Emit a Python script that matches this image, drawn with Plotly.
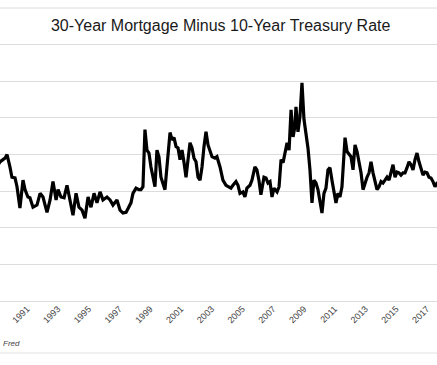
import plotly.graph_objects as go

# Decimal years and spread values (percentage points)
years = [1989.10, 1989.24, 1989.57, 1989.70, 1989.89, 1990.02, 1990.22, 1990.35, 1990.54, 1990.74, 1990.87,
         1991.06, 1991.19, 1991.39, 1991.65, 1991.85, 1992.04, 1992.30, 1992.50, 1992.69, 1992.89,
         1993.02, 1993.21, 1993.41, 1993.60, 1993.80, 1993.99, 1994.19, 1994.38, 1994.58, 1994.77,
         1994.97, 1995.16, 1995.36, 1995.55, 1995.75, 1995.94, 1996.20, 1996.40, 1996.59, 1996.85,
         1997.05, 1997.24, 1997.44, 1997.57, 1997.76, 1997.89, 1998.09, 1998.28, 1998.41, 1998.54,
         1998.67, 1998.80, 1998.93, 1999.06, 1999.19, 1999.32, 1999.45, 1999.58, 1999.71, 1999.84,
         1999.97, 2000.10, 2000.30, 2000.43, 2000.56, 2000.69, 2000.82, 2000.95, 2001.08, 2001.21,
         2001.34, 2001.47, 2001.60, 2001.73, 2001.86, 2001.99, 2002.12, 2002.25, 2002.38, 2002.51,
         2002.64, 2002.77, 2002.90, 2003.03, 2003.22, 2003.35, 2003.55, 2003.74, 2003.94, 2004.13,
         2004.26, 2004.39, 2004.59, 2004.72, 2004.85, 2005.04, 2005.17, 2005.30, 2005.50, 2005.63,
         2005.82, 2005.95, 2006.08, 2006.21, 2006.41, 2006.54, 2006.67, 2006.80, 2006.93, 2007.06,
         2007.26, 2007.39, 2007.52, 2007.65, 2007.78, 2007.91, 2008.04, 2008.17, 2008.30, 2008.42,
         2008.49, 2008.62, 2008.75, 2008.88, 2009.01, 2009.14, 2009.27, 2009.40, 2009.53, 2009.66,
         2009.79, 2009.92, 2010.05, 2010.18, 2010.31, 2010.44, 2010.57, 2010.70, 2010.83, 2010.96,
         2011.09, 2011.22, 2011.35, 2011.48, 2011.61, 2011.68, 2011.81, 2011.94, 2012.07, 2012.20,
         2012.33, 2012.46, 2012.59, 2012.72, 2012.85, 2012.98, 2013.11, 2013.24, 2013.37, 2013.50,
         2013.63, 2013.76, 2013.89, 2014.02, 2014.15, 2014.28, 2014.41, 2014.54, 2014.67, 2014.80,
         2014.93, 2015.06, 2015.19, 2015.32, 2015.45, 2015.58, 2015.71, 2015.84, 2015.97, 2016.10,
         2016.23, 2016.36, 2016.49, 2016.62, 2016.75, 2016.88, 2017.01, 2017.14, 2017.27, 2017.40,
         2017.53, 2017.66, 2017.80]

spread = [1.85, 1.90, 1.95, 2.00, 1.83, 1.69, 1.68, 1.56, 1.27, 1.65, 1.52,
          1.42, 1.41, 1.28, 1.31, 1.47, 1.42, 1.21, 1.38, 1.63, 1.38,
          1.52, 1.42, 1.41, 1.58, 1.38, 1.17, 1.47, 1.28, 1.24, 1.13,
          1.42, 1.28, 1.47, 1.34, 1.49, 1.38, 1.42, 1.38, 1.31, 1.38,
          1.24, 1.20, 1.21, 1.27, 1.34, 1.47, 1.54, 1.52, 1.52, 1.56,
          2.34, 2.06, 2.02, 1.83, 1.69, 1.56, 2.06, 1.97, 1.69, 1.61,
          1.52, 1.83, 2.30, 2.20, 2.23, 2.11, 2.09, 1.93, 2.06, 1.89,
          1.69, 1.93, 2.16, 2.09, 1.95, 1.90, 1.69, 1.65, 1.83, 2.11,
          2.31, 2.13, 2.03, 1.97, 1.95, 1.97, 1.83, 1.65, 1.58, 1.56,
          1.54, 1.58, 1.63, 1.58, 1.47, 1.49, 1.42, 1.54, 1.58, 1.65,
          1.83, 1.79, 1.65, 1.45, 1.69, 1.68, 1.61, 1.63, 1.42, 1.54,
          1.49, 1.56, 1.93, 1.89, 2.04, 2.16, 2.06, 2.61, 2.24, 2.38,
          2.65, 2.31, 2.52, 2.98, 2.48, 2.30, 2.09, 1.79, 1.34, 1.65,
          1.61, 1.52, 1.34, 1.20, 1.47, 1.54, 1.79, 1.82, 1.65, 1.47,
          1.34, 1.47, 1.42, 1.56, 2.06, 2.23, 2.04, 2.00, 1.97, 1.79,
          2.13, 2.04, 1.89, 1.75, 1.52, 1.61, 1.69, 1.75, 1.90, 1.75,
          1.65, 1.52, 1.56, 1.63, 1.61, 1.65, 1.69, 1.65, 1.76, 1.86,
          1.69, 1.76, 1.75, 1.72, 1.75, 1.75, 1.82, 1.90, 1.86, 1.79,
          1.93, 2.02, 1.90, 1.79, 1.72, 1.76, 1.75, 1.69, 1.68, 1.63,
          1.56, 1.61, 1.62]

tick_years = [1991, 1993, 1995, 1997, 1999, 2001, 2003, 2005, 2007, 2009, 2011, 2013, 2015, 2017]
tick_labels = [str(y) for y in tick_years]

fig = go.Figure()
fig.add_trace(go.Scatter(x=years, y=spread, mode="lines",
                         line=dict(color="#000000", width=3.2), hoverinfo="skip"))

fig.update_layout(
    width=437, height=365,
    margin=dict(l=0, r=0, t=8, b=64, pad=0),
    paper_bgcolor="white", plot_bgcolor="white",
    showlegend=False,
    hovermode=False,
    font=dict(family="Liberation Sans, Arial, sans-serif", color="#333333"),
    title=dict(text="30-Year Mortgage Minus 10-Year Treasury Rate",
               x=0.505, xanchor="center", y=1 - 25 / 365, yanchor="middle",
               font=dict(size=16, color="#1a1a1a")),
    xaxis=dict(range=[1989.244, 2017.66], tickvals=tick_years, ticktext=tick_labels,
               tickangle=-45, tickfont=dict(size=9, color="#444444"),
               showgrid=False, zeroline=False, showline=False, ticks=""),
    yaxis=dict(range=[0, 4.0], dtick=0.5, showticklabels=False, showgrid=True,
               gridcolor="#dcdcdc", gridwidth=1, zeroline=True, zerolinecolor="#dcdcdc",
               zerolinewidth=1, showline=False, ticks=""),
    annotations=[dict(text="<i>Fred</i>", xref="paper", yref="paper",
                      x=0.5 / 437, y=-(343 - 301) / 293, xanchor="left", yanchor="middle",
                      showarrow=False, font=dict(size=8, color="#444444"))],
    shapes=[
        dict(type="line", xref="paper", yref="paper", x0=0, x1=1, y0=1, y1=1,
             line=dict(color="#dcdcdc", width=1), layer="below"),
        dict(type="line", xref="paper", yref="paper", x0=0, x1=1,
             y0=-(353 - 301) / 293, y1=-(353 - 301) / 293,
             line=dict(color="#e2e2e2", width=1)),
    ],
)

fig.write_html("out.html", config={"displayModeBar": False, "staticPlot": True},
               post_script="document.body.style.margin='0px';")
